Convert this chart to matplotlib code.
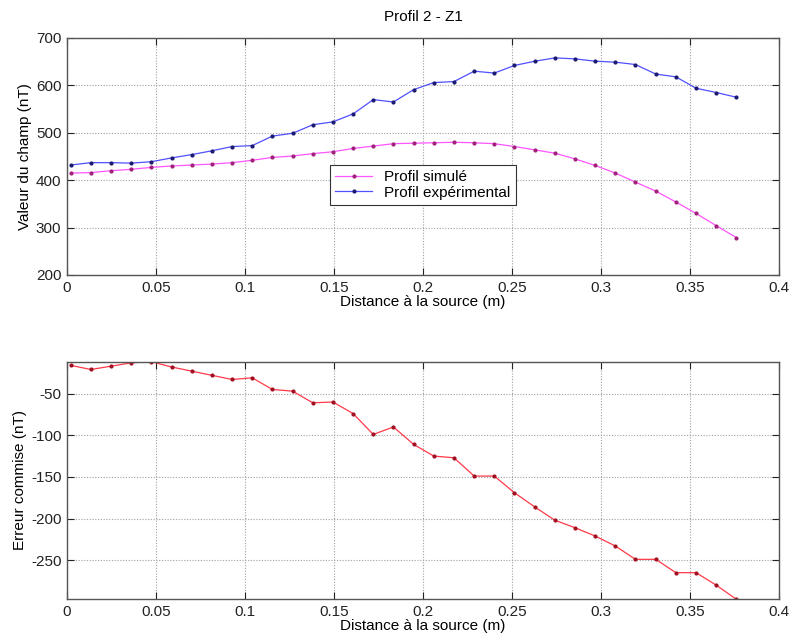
import matplotlib
matplotlib.use("Agg")
import matplotlib.pyplot as plt

plt.rcParams['font.family'] = ['Liberation Sans', 'DejaVu Sans']
plt.rcParams['font.size'] = 11
plt.rcParams['axes.unicode_minus'] = False

# distance a la source (m)
distance = [0.0021, 0.0134, 0.0248, 0.0361, 0.0474, 0.0588, 0.0701, 0.0814,
            0.0928, 0.1041, 0.1154, 0.1268, 0.1381, 0.1494, 0.1608, 0.1721,
            0.1834, 0.1948, 0.2061, 0.2174, 0.2288, 0.2401, 0.2514, 0.2628,
            0.2741, 0.2854, 0.2968, 0.3081, 0.3194, 0.3308, 0.3421, 0.3534,
            0.3648, 0.3761]

profil_simule = [415, 416, 420, 423, 427, 430, 432, 434, 437, 442, 448, 451,
                 456, 460, 467, 472, 477, 478, 479, 480, 479, 477, 471, 464,
                 457, 445, 431, 415, 396, 377, 354, 330, 304, 279]

profil_exp = [432, 437, 437, 436, 439, 447, 454, 462, 471, 473, 493, 499,
              517, 523, 540, 570, 565, 591, 606, 608, 630, 626, 642, 651,
              658, 656, 651, 649, 644, 624, 618, 594, 585, 575]

erreur = [-16, -21, -17, -13, -11.6, -18, -23, -28, -33, -31, -45, -47,
          -61, -60, -74, -99, -90, -111, -125, -127, -149, -149, -169, -186,
          -202, -211, -221, -233, -249, -249, -265, -265, -280, -297]

xticks = [0, 0.05, 0.1, 0.15, 0.2, 0.25, 0.3, 0.35, 0.4]
xticklabels = ['0', '0.05', '0.1', '0.15', '0.2', '0.25', '0.3', '0.35', '0.4']


def style_axes(ax):
    ax.set_xlim(0, 0.4)
    ax.set_xticks(xticks)
    ax.set_xticklabels(xticklabels)
    ax.tick_params(direction='in', top=True, right=True, length=5, width=0.8,
                   labelsize=11, pad=4, colors='#222222')
    ax.grid(True, linestyle=(0, (1, 1.5)), color='#a0a0a0', linewidth=0.8)
    for s in ax.spines.values():
        s.set_color('#555555')
        s.set_linewidth(1.0)


fig = plt.figure(figsize=(7.91, 6.44), dpi=100)
ax1 = fig.add_axes([0.0847, 0.573, 0.900, 0.368])
ax2 = fig.add_axes([0.0847, 0.0694, 0.900, 0.369])

ax1.plot(distance, profil_simule, '-', color='#ff55ff', lw=0.9,
         marker='.', ms=4, mfc='#a0207a', mec='#a0207a', label='Profil simulé')
ax1.plot(distance, profil_exp, '-', color='#5050ff', lw=0.9,
         marker='.', ms=4, mfc='#1a1a70', mec='#1a1a70', label='Profil expérimental')
style_axes(ax1)
ax1.set_ylim(200, 700)
ax1.set_yticks([200, 300, 400, 500, 600, 700])
ax1.set_title('Profil 2 - Z1', fontsize=11, pad=12)
ax1.set_xlabel('Distance à la source (m)', labelpad=0)
ax1.set_ylabel('Valeur du champ (nT)', labelpad=3)
leg = ax1.legend(loc='center', bbox_to_anchor=(0.5, 0.38), fancybox=False,
                 edgecolor='#333333', framealpha=1, handlelength=2.4,
                 handletextpad=0.8, borderpad=0.35, labelspacing=0.1,
                 fontsize=11)
leg.get_frame().set_linewidth(0.8)

ax2.plot(distance, erreur, '-', color='#ff3a4a', lw=0.9,
         marker='.', ms=4, mfc='#a01020', mec='#a01020')
style_axes(ax2)
ax2.set_ylim(min(erreur), max(erreur))
ax2.set_yticks([-250, -200, -150, -100, -50])
ax2.set_xlabel('Distance à la source (m)', labelpad=0)
ax2.set_ylabel('Erreur commise (nT)', labelpad=3)

fig.savefig('out.png', dpi=100)
